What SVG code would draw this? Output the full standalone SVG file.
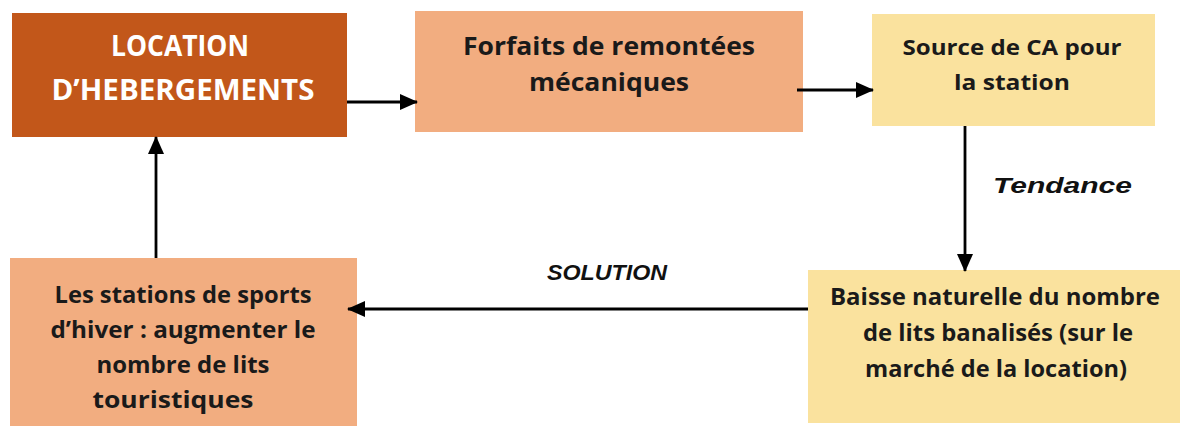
<svg xmlns="http://www.w3.org/2000/svg" width="1182" height="426" viewBox="0 0 1182 426">
<defs>
<marker id="ah" markerUnits="userSpaceOnUse" markerWidth="18" markerHeight="16" refX="17" refY="8" orient="auto">
<path d="M0,0 L18,8 L0,16 Z" fill="#000"/>
</marker>
<style>
.t{font-family:"Open Sans","Liberation Sans",sans-serif;font-weight:bold;text-anchor:middle;fill:#1a1a1a}
.w{fill:#ffffff}
.lbl{font-family:"Liberation Sans","DejaVu Sans",sans-serif;font-weight:bold;font-style:italic;fill:#111}
.c{stroke:#000;stroke-width:2.8;fill:none;marker-end:url(#ah)}
</style>
</defs>
<rect width="1182" height="426" fill="#ffffff"/>
<g id="n1">
<rect x="12" y="13" width="335" height="124" fill="#C2571A"/>
<text class="t w" x="180" y="56" font-size="28" textLength="138" lengthAdjust="spacingAndGlyphs">LOCATION</text>
<text class="t w" x="183" y="100" font-size="28" textLength="263" lengthAdjust="spacingAndGlyphs">D’HEBERGEMENTS</text>
</g>
<g id="n2">
<rect x="415" y="11" width="388" height="121" fill="#F2AD80"/>
<text class="t" x="609" y="55" font-size="25" textLength="292" lengthAdjust="spacingAndGlyphs">Forfaits de remontées</text>
<text class="t" x="609" y="91" font-size="25" textLength="160" lengthAdjust="spacingAndGlyphs">mécaniques</text>
</g>
<g id="n3">
<rect x="872" y="14" width="283" height="112" fill="#FAE29E"/>
<text class="t" x="1012" y="55" font-size="22" textLength="219" lengthAdjust="spacingAndGlyphs">Source de CA pour</text>
<text class="t" x="1012" y="90" font-size="22" textLength="116" lengthAdjust="spacingAndGlyphs">la station</text>
</g>
<g id="n4">
<rect x="808" y="270" width="372" height="153" fill="#FAE29E"/>
<text class="t" x="995" y="305" font-size="22.5" textLength="330" lengthAdjust="spacingAndGlyphs">Baisse naturelle du nombre</text>
<text class="t" x="998" y="341" font-size="22.5" textLength="270" lengthAdjust="spacingAndGlyphs">de lits banalisés (sur le</text>
<text class="t" x="996" y="377" font-size="22.5" textLength="262" lengthAdjust="spacingAndGlyphs">marché de la location)</text>
</g>
<g id="n5">
<rect x="10" y="258" width="347" height="168" fill="#F2AD80"/>
<text class="t" x="183" y="303" font-size="22.5" textLength="257" lengthAdjust="spacingAndGlyphs">Les stations de sports</text>
<text class="t" x="183" y="338" font-size="22.5" textLength="265" lengthAdjust="spacingAndGlyphs">d’hiver : augmenter le</text>
<text class="t" x="183" y="373" font-size="22.5" textLength="173" lengthAdjust="spacingAndGlyphs">nombre de lits</text>
<text class="t" x="173" y="408" font-size="22.5" textLength="161" lengthAdjust="spacingAndGlyphs">touristiques</text>
</g>
<g id="connectors">
<line class="c" x1="347" y1="102" x2="417" y2="102"/>
<line class="c" x1="797" y1="90" x2="873" y2="90"/>
<line class="c" x1="965" y1="126" x2="965" y2="271"/>
<line class="c" x1="808" y1="309" x2="348" y2="309"/>
<line class="c" x1="156" y1="258" x2="156" y2="137"/>
<text class="lbl" x="993" y="193" font-size="22" textLength="139" lengthAdjust="spacingAndGlyphs">Tendance</text>
<text class="lbl" x="547" y="280" font-size="22" textLength="120" lengthAdjust="spacingAndGlyphs">SOLUTION</text>
</g>
</svg>
